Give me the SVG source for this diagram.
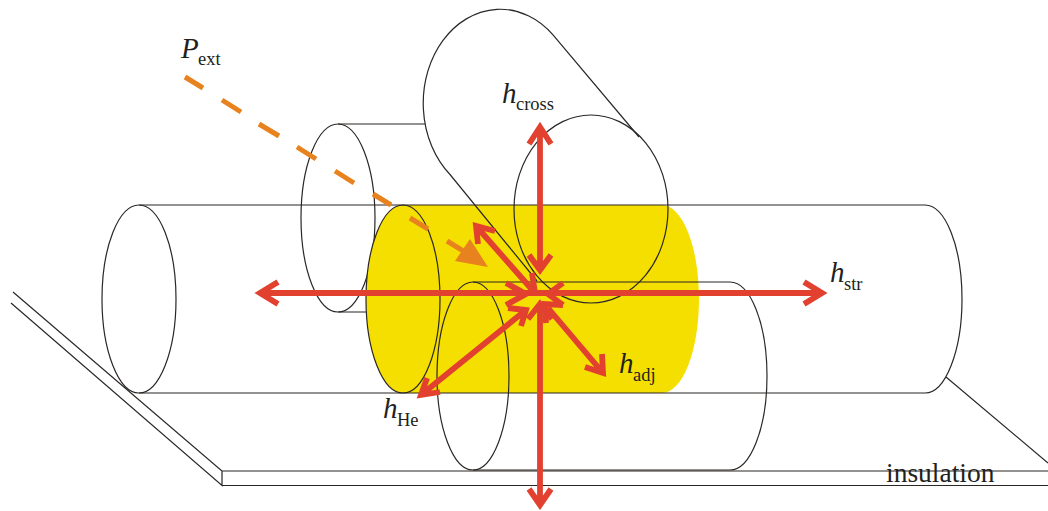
<svg xmlns="http://www.w3.org/2000/svg" width="1048" height="511" viewBox="0 0 1048 511">
<style>
.o{fill:none;stroke:#2a2725;stroke-width:1.2}
.r{fill:none;stroke:#e2412f;stroke-width:5.800;stroke-miterlimit:10}
.d{fill:none;stroke:#e8821e;stroke-width:5}
text{font-family:"Liberation Serif","Times New Roman",serif;fill:#231f20}
.h{font-size:29px;font-style:italic}
.s{font-size:18.500px}
</style>
<rect width="1048" height="511" fill="#fff"/>
<g id="insulation">
<path class="o" d="M13 292L222 471V485.500L11 303M222 471H1048M222 485.500H1048M946 377L1048 463"/>
</g>
<g id="back-cylinder">
<ellipse class="o" cx="338" cy="218" rx="37" ry="94"/>
<path class="o" d="M338 124H425M338 312H372"/>
</g>
<g id="main-cylinder">
<ellipse class="o" cx="139" cy="299" rx="37" ry="94"/>
</g>
<g id="heated-section">
<path d="M403 205H662A37 94 0 0 1 662 393H403A37 94 0 0 1 403 205Z" fill="#f5df00"/>
<ellipse class="o" cx="403" cy="299" rx="37" ry="94"/>
</g>
<g id="main-cylinder-outline">
<path class="o" d="M139 205H925A37 94 0 0 1 925 393H139"/>
</g>
<g id="cross-cylinder">
<ellipse class="o" cx="591" cy="209" rx="77" ry="94"/>
<path class="o" d="M553 34.800A77 94 0 1 0 450 174.500L537 281M553 34.800L639 137"/>
</g>
<g id="adjacent-cylinder">
<ellipse class="o" cx="473" cy="376" rx="36" ry="94"/>
<path class="o" d="M473 282H730A37 94 0 0 1 730 470H473"/>
</g>
<g id="connectors">
<path class="d" d="M185 77L203 88M222 100L241 112M259 124L279 136M297 147L316 159M335 171L354 183M373 194L391 205M410 218L428 229M447 241L473 257"/>
<path d="M488 267L470 239L455 261Z" fill="#e8821e"/>
<path class="r" d="M260 293H822M278 282L260 293L278 304M804 282L822 293L804 304"/>
<path class="r" d="M506 283L526 294L506 305M563 283L548 294L563 305"/>
<path class="r" d="M540 127V270M529 144L540 127L551 144M529 255L540 270L551 255"/>
<path class="r" d="M540 304V505M529 489L540 505L551 489M528 319L540 304L552 319"/>
<path class="r" d="M476 226L535 293M478 244L476 226L495 231M532 273L535 293"/>
<path class="r" d="M548 308L603 373M602 354L603 373L585 367M546 323L545 304L563 305"/>
<path class="r" d="M421 395L526 310M427 378L421 395L440 392M508 308L526 310L521 326"/>
</g>
<g id="labels">
<text x="886" y="482" style="font-size:27.500px">insulation</text>
<text class="h" x="181" y="58">P</text><text class="s" x="198" y="65">ext</text>
<text class="h" x="502" y="103">h</text><text class="s" x="516" y="110">cross</text>
<text class="h" x="830" y="282">h</text><text class="s" x="844" y="290">str</text>
<text class="h" x="619" y="373">h</text><text class="s" x="633" y="381">adj</text>
<text class="h" x="383" y="418">h</text><text class="s" x="397" y="426">He</text>
</g>
</svg>
